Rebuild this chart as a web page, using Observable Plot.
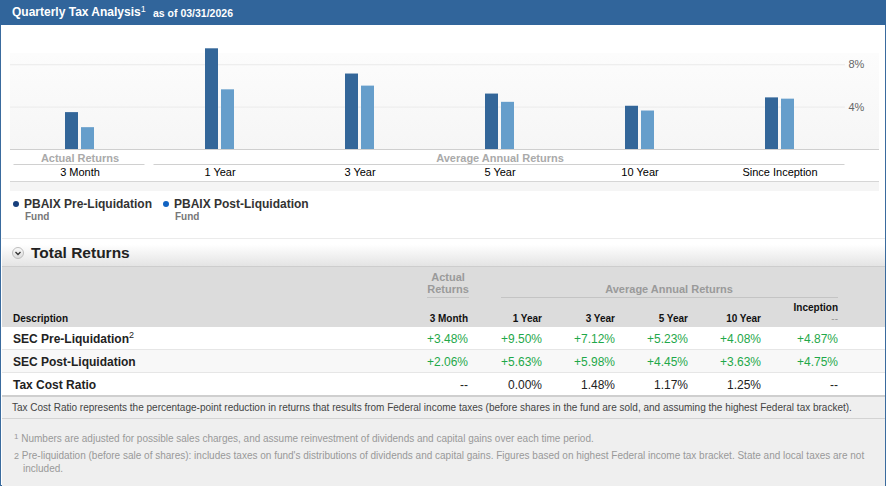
<!DOCTYPE html>
<html>
<head>
<meta charset="utf-8">
<script src="https://cdn.jsdelivr.net/npm/d3@7"></script>
<script src="https://cdn.jsdelivr.net/npm/@observablehq/plot@0.6"></script>
<style>
  html, body { margin: 0; padding: 0; background: #fff; }
  body { position: relative; width: 888px; height: 487px; overflow: hidden; font-family: "Liberation Sans", Arial, sans-serif; color: #222; }
  .abs { position: absolute; white-space: nowrap; }
  #frame { position: absolute; left: 0; top: 0; width: 884px; height: 484px; border: 1px solid #3a6b9e; }
  #header { left: 0; top: 0; width: 886px; height: 25px; background: #31659b; }
  .title { color: #fff; font-weight: bold; font-size: 12px; }
  .asof { color: #fff; font-weight: bold; font-size: 10.5px; }
  #chart { position: absolute; left: 0; top: 26px; }
  .legend-name { font-weight: bold; font-size: 12px; color: #333; }
  .legend-sub { font-weight: bold; font-size: 10px; color: #777; }
  .dot { width: 6px; height: 6px; border-radius: 50%; }
  .th { font-weight: bold; font-size: 10px; color: #111; }
  .grp { font-weight: bold; font-size: 11px; color: #9a9a9a; text-align: center; }
  .rowlabel { font-weight: bold; font-size: 12px; color: #222; }
  .val { font-size: 12px; text-align: right; }
</style>
</head>
<body>
<div id="frame"></div>
<div id="header" class="abs"></div>
<div class="abs title" style="left:12px; top:5px;">Quarterly Tax Analysis<sup style="font-size:9px; font-weight:normal; position:relative; top:-1px; vertical-align:top;">1</sup></div>
<div class="abs asof" style="left:153px; top:7px;">as of 03/31/2026</div>

<div id="chartbg" class="abs" style="left:10px; top:53px; width:869px; height:96px; background:linear-gradient(#fcfcfc, #f6f6f6);"></div>
<div class="abs" style="left:10px; top:149px; width:869px; height:1px; background:#cfcfcf;"></div>
<div class="abs" style="left:10px; top:181px; width:869px; height:1px; background:#d6d6d6;"></div>
<div class="abs" style="left:10px; top:182px; width:869px; height:9px; background:#f5f5f5;"></div>
<div id="chart"></div>

<div id="legend"></div>

<div class="abs" style="left:2px; top:238px; width:883px; height:1px; background:#ebebeb;"></div>
<div class="abs" style="left:2px; top:239px; width:883px; height:27px; background:linear-gradient(#ffffff 20%, #e4e4e4); border-bottom:1px solid #cdcdcd;"></div>
<div class="abs" style="left:12px; top:247px; width:12px; height:12px; border-radius:50%; background:linear-gradient(#fafafa,#dcdcdc); border:1px solid #bdbdbd; box-sizing:border-box;"></div>
<svg class="abs" style="left:12px; top:247px;" width="12" height="12"><path d="M3.5 5 L6 7.5 L8.5 5" fill="none" stroke="#333" stroke-width="1.3"/></svg>
<div class="abs" style="left:31px; top:244px; font-weight:bold; font-size:15.5px; color:#222;">Total Returns</div>

<div class="abs" style="left:2px; top:267px; width:883px; height:60px; background:#dcdcdc;"></div>
<div id="table"></div>

<div class="abs" style="left:2px; top:396px; width:883px; height:89px; background:#efefef; border-top:1px solid #cfcfcf;"></div>
<div class="abs" style="left:12px; top:402px; font-size:10px; color:#444;">Tax Cost Ratio represents the percentage-point reduction in returns that results from Federal income taxes (before shares in the fund are sold, and assuming the highest Federal tax bracket).</div>
<div class="abs" style="left:2px; top:418px; width:883px; height:1px; background:#d3d3d3;"></div>
<div class="abs" style="left:14px; top:433px; font-size:10px; color:#999;"><span style="font-size:8px; position:relative; top:-3px;">1</span> Numbers are adjusted for possible sales charges, and assume reinvestment of dividends and capital gains over each time period.</div>
<div class="abs" style="left:14px; top:450px; font-size:10px; color:#999; line-height:12.5px;"><span style="font-size:9px;">2</span> Pre-liquidation (before sale of shares): includes taxes on fund's distributions of dividends and capital gains. Figures based on highest Federal income tax bracket. State and local taxes are not<br><span style="padding-left:9px;">included.</span></div>

<script>
// ---------------- data ----------------
const categories = ["3 Month", "1 Year", "3 Year", "5 Year", "10 Year", "Since Inception"];
const preLiquidation = [3.48, 9.50, 7.12, 5.23, 4.08, 4.87];
const postLiquidation = [2.06, 5.63, 5.98, 4.45, 3.63, 4.75];
const taxCostRatio = [null, 0.00, 1.48, 1.17, 1.25, null];
const yTicks = [4, 8];
const seriesNames = ["PBAIX Pre-Liquidation", "PBAIX Post-Liquidation"];
const seriesSub = ["Fund", "Fund"];
const groupLabels = ["Actual Returns", "Average Annual Returns"];
const groupAnchor = ["3 Month", "5 Year"];
const groupFrom = ["3 Month", "1 Year"];
const groupTo = ["3 Month", "Since Inception"];
const tableColumns = ["3 Month", "1 Year", "3 Year", "5 Year", "10 Year", "Inception"];
const rowLabels = ["SEC Pre-Liquidation", "SEC Post-Liquidation", "Tax Cost Ratio"];

const barColors = ["#336699", "#669ecb"];
const dotColors = ["#173f7c", "#1163c2"];

const data = categories.map((c, i) => ({category: c, pre: preLiquidation[i], post: postLiquidation[i]}));
const groups = groupLabels.map((g, i) => ({label: g, at: groupAnchor[i], from: groupFrom[i], to: groupTo[i]}));

// ---------------- chart ----------------
const plot = Plot.plot({
  width: 888,
  height: 166,
  marginLeft: 10,
  marginRight: 43,
  marginTop: 17,
  marginBottom: 43,
  style: {background: "transparent", fontFamily: "'Liberation Sans', Arial, sans-serif", overflow: "visible"},
  x: {type: "band", domain: categories, range: [10, 850], paddingInner: 0.907, paddingOuter: 0.4535, label: null},
  y: {domain: [0, 10], range: [123, 17], label: null},
  marks: [
    Plot.ruleY(yTicks, {stroke: "#ebebeb"}),
    Plot.axisY(yTicks, {anchor: "right", tickSize: 0, tickPadding: 3, tickFormat: d => d + "%", fill: "#666", fontSize: 11, label: null}),
    Plot.axisX({tickSize: 0, tickPadding: 19, fontSize: 11, fill: "#000", label: null}),
    Plot.barY(data, {x: "category", y: "pre", fill: barColors[0], dx: -8}),
    Plot.barY(data, {x: "category", y: "post", fill: barColors[1], dx: 8}),
    Plot.text(groups, {x: "at", text: "label", frameAnchor: "bottom", dy: 12, fill: "#aaa", fontWeight: "bold", fontSize: 11})
  ]
});
document.getElementById("chart").appendChild(plot);

// group underlines, positioned from Plot's own x scale
const xs = plot.scale("x");
const svg = d3.select(plot);
groups.forEach(g => {
  const c1 = xs.apply(g.from) + xs.bandwidth / 2;
  const c2 = xs.apply(g.to) + xs.bandwidth / 2;
  svg.append("line")
    .attr("x1", c1 - 66).attr("x2", c2 + 65)
    .attr("y1", 138.5).attr("y2", 138.5)
    .attr("stroke", "#d0d0d0");
});

// ---------------- legend ----------------
const legend = document.getElementById("legend");
const legendX = [13, 163];
seriesNames.forEach((name, i) => {
  legend.insertAdjacentHTML("beforeend",
    `<div class="abs dot" style="left:${legendX[i]}px; top:201px; background:${dotColors[i]}"></div>
     <div class="abs legend-name" style="left:${legendX[i] + 11}px; top:197px;">${name}</div>
     <div class="abs legend-sub" style="left:${legendX[i] + 12}px; top:211px;">${seriesSub[i]}</div>`);
});

// ---------------- table ----------------
const table = document.getElementById("table");
const colRight = [468, 542, 615, 688, 761, 838];
const rowTop = [327, 350, 373];
const rowBg = ["#ffffff", "#f8f8f8", "#ffffff"];
const green = "#1fa84a";
const fmtSigned = v => (v == null ? "--" : (v >= 0 ? "+" : "") + v.toFixed(2) + "%");
const fmtPlain = v => (v == null ? "--" : v.toFixed(2) + "%");

let html = "";
html += `<div class="abs grp" style="left:418px; top:271px; width:60px; line-height:12px;">Actual<br>Returns</div>`;
html += `<div class="abs" style="left:427px; top:297px; width:42px; height:1px; background:#c4c4c4;"></div>`;
html += `<div class="abs grp" style="left:500px; top:283px; width:338px;">Average Annual Returns</div>`;
html += `<div class="abs" style="left:501px; top:297px; width:337px; height:1px; background:#c4c4c4;"></div>`;
html += `<div class="abs th" style="left:13px; top:313px;">Description</div>`;
tableColumns.forEach((c, j) => {
  const top = c === "Inception" ? 302 : 313;
  html += `<div class="abs th" style="right:${888 - colRight[j]}px; top:${top}px;">${c}</div>`;
});
html += `<div class="abs" style="right:${888 - colRight[5]}px; top:313px; font-size:10px; color:#999;">--</div>`;

const rows = [
  {vals: preLiquidation, fmt: fmtSigned, color: green},
  {vals: postLiquidation, fmt: fmtSigned, color: green},
  {vals: taxCostRatio, fmt: fmtPlain, color: "#222"}
];
rows.forEach((r, i) => {
  html += `<div class="abs" style="left:2px; top:${rowTop[i]}px; width:883px; height:22px; background:${rowBg[i]}; border-bottom:1px solid ${i === 2 ? '#cfcfcf' : '#e6e6e6'};"></div>`;
  const sup = i === 0 ? `<sup style="font-size:9px; font-weight:normal; vertical-align:top; position:relative; top:-2px;">2</sup>` : "";
  html += `<div class="abs rowlabel" style="left:13px; top:${rowTop[i] + 5}px;">${rowLabels[i]}${sup}</div>`;
  r.vals.forEach((v, j) => {
    html += `<div class="abs val" style="right:${888 - colRight[j]}px; top:${rowTop[i] + 5}px; color:${r.color};">${r.fmt(v)}</div>`;
  });
});
table.innerHTML = html;
</script>
</body>
</html>
